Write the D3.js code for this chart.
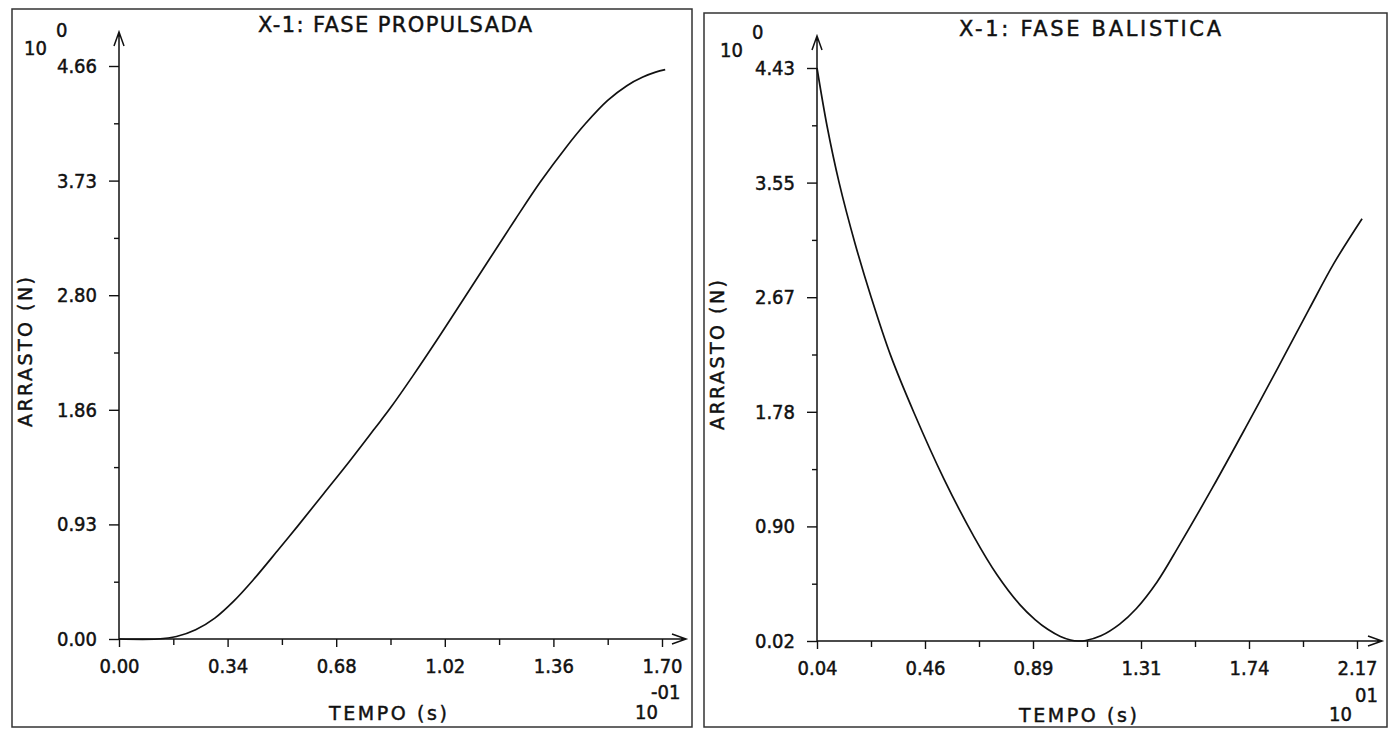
<!DOCTYPE html>
<html>
<head>
<meta charset="utf-8">
<script src="https://cdn.jsdelivr.net/npm/d3@7"></script>
<style>
  body { margin: 0; background: #fff; }
  text { font-family: "DejaVu Sans Condensed", "DejaVu Sans", sans-serif; font-stretch: condensed; fill: #111; stroke: #111; stroke-width: 0.45px; }
  text.wide { font-family: "DejaVu Sans", sans-serif; font-stretch: normal; }
</style>
</head>
<body>
<script>

// fase propulsada (tempo x 10^-1 s, arrasto N)
var propTime = [0, 0.12, 0.18, 0.24, 0.30, 0.36, 0.42, 0.50, 0.56, 0.64, 0.72, 0.80, 0.85, 0.92, 1.00, 1.085, 1.16, 1.24, 1.32, 1.40, 1.46, 1.53, 1.59, 1.64, 1.68, 1.71];
var propDrag = [0, 0.00, 0.02, 0.075, 0.17, 0.31, 0.48, 0.73, 0.92, 1.18, 1.44, 1.71, 1.88, 2.14, 2.45, 2.79, 3.09, 3.41, 3.72, 4.00, 4.19, 4.38, 4.50, 4.57, 4.61, 4.63];

// fase balistica (tempo x 10^1 s, arrasto N)
var balTime = [0.04, 0.08, 0.127, 0.19, 0.253, 0.33, 0.423, 0.54, 0.66, 0.75, 0.84, 0.90, 0.95, 1.00, 1.04, 1.07, 1.10, 1.16, 1.234, 1.30, 1.38, 1.47, 1.60, 1.73, 1.86, 1.98, 2.08, 2.19];
var balDrag = [4.43, 3.98, 3.55, 3.08, 2.67, 2.22, 1.775, 1.27, 0.82, 0.53, 0.30, 0.185, 0.11, 0.055, 0.028, 0.02, 0.024, 0.06, 0.15, 0.27, 0.47, 0.76, 1.20, 1.66, 2.13, 2.57, 2.93, 3.27];

// ticks
var propXTicks = [0, 0.34, 0.68, 1.02, 1.36, 1.70];
var propXMinor = [0.17, 0.51, 0.85, 1.19, 1.53];
var propXLabels = ["0.00", "0.34", "0.68", "1.02", "1.36", "1.70"];
var propYTicks = [0, 0.932, 1.864, 2.796, 3.728, 4.66];
var propYMinor = [0.466, 1.398, 2.33, 3.262, 4.194];
var propYLabels = ["0.00", "0.93", "1.86", "2.80", "3.73", "4.66"];

var balXTicks = [0.04, 0.466, 0.892, 1.318, 1.744, 2.17];
var balXMinor = [0.253, 0.679, 1.105, 1.531, 1.957];
var balXLabels = ["0.04", "0.46", "0.89", "1.31", "1.74", "2.17"];
var balYTicks = [0.02, 0.902, 1.784, 2.666, 3.548, 4.43];
var balYMinor = [0.461, 1.343, 2.225, 3.107, 3.989];
var balYLabels = ["0.02", "0.90", "1.78", "2.67", "3.55", "4.43"];

var titles = ["X-1: FASE PROPULSADA", "X-1: FASE BALISTICA"];
var xTitle = "TEMPO (s)";
var yTitle = "ARRASTO (N)";

// --- layout of the two plotter sheets ---

var panels = [
  {
    time: propTime, drag: propDrag,
    xTicks: propXTicks, xMinor: propXMinor, xLabels: propXLabels,
    yTicks: propYTicks, yMinor: propYMinor, yLabels: propYLabels,
    xDomain: [0, 1.70], yDomain: [0, 4.66],
    frame: [12, 9, 692, 727],
    xRange: [119, 662], yRange: [639, 66],
    arrowTop: 32, arrowRight: 686,
    title: { text: titles[0], x: 395, y: 32, len: 274 },
    yLab: { x: 32, y: 352, len: 150 },
    xLab: { x: 388, y: 720, len: 118 },
    yExp: { base: [24, 55], sup: "0", supPos: [56, 37] },
    xExp: { base: [635, 719], sup: "-01", supPos: [651, 699] }
  },
  {
    time: balTime, drag: balDrag,
    xTicks: balXTicks, xMinor: balXMinor, xLabels: balXLabels,
    yTicks: balYTicks, yMinor: balYMinor, yLabels: balYLabels,
    xDomain: [0.04, 2.17], yDomain: [0.02, 4.43],
    frame: [704, 13, 1387, 727],
    xRange: [817, 1357], yRange: [641, 68],
    arrowTop: 36, arrowRight: 1382,
    title: { text: titles[1], x: 1090, y: 36, len: 262 },
    yLab: { x: 724, y: 355, len: 150 },
    xLab: { x: 1078, y: 722, len: 118 },
    yExp: { base: [720, 57], sup: "0", supPos: [752, 39] },
    xExp: { base: [1329, 721], sup: "01", supPos: [1355, 702] }
  }
];

var svg = d3.select("body").append("svg")
  .attr("width", 1389)
  .attr("height", 729);

panels.forEach(function(p) {
  var g = svg.append("g");

  // sheet border
  g.append("rect")
    .attr("x", p.frame[0]).attr("y", p.frame[1])
    .attr("width", p.frame[2] - p.frame[0])
    .attr("height", p.frame[3] - p.frame[1])
    .attr("fill", "none")
    .attr("stroke", "#333")
    .attr("stroke-width", 1.5);

  var x = d3.scaleLinear().domain(p.xDomain).range(p.xRange);
  var y = d3.scaleLinear().domain(p.yDomain).range(p.yRange);

  // y axis: major + minor ticks
  g.append("g")
    .attr("transform", "translate(" + p.xRange[0] + ",0)")
    .call(d3.axisLeft(y).tickValues(p.yTicks).tickSize(10).tickPadding(12)
      .tickFormat(function(d, i) { return p.yLabels[i]; }));
  g.append("g")
    .attr("transform", "translate(" + p.xRange[0] + ",0)")
    .call(d3.axisLeft(y).tickValues(p.yMinor).tickSize(5).tickFormat(""));

  // x axis
  g.append("g")
    .attr("transform", "translate(0," + p.yRange[0] + ")")
    .call(d3.axisBottom(x).tickValues(p.xTicks).tickSize(8).tickPadding(12)
      .tickFormat(function(d, i) { return p.xLabels[i]; }));
  g.append("g")
    .attr("transform", "translate(0," + p.yRange[0] + ")")
    .call(d3.axisBottom(x).tickValues(p.xMinor).tickSize(6).tickFormat(""));

  g.selectAll(".domain").remove();
  g.selectAll(".tick line").attr("stroke", "#111").attr("stroke-width", 1.4);
  g.selectAll(".tick text").style("font-size", "20px").attr("fill", "#111");

  // axis lines with open arrowheads
  var x0 = p.xRange[0], y0 = p.yRange[0];
  g.append("path")
    .attr("d", "M" + x0 + "," + y0 + "V" + p.arrowTop +
      "M" + (x0 - 5) + "," + (p.arrowTop + 14) + "L" + x0 + "," + p.arrowTop + "L" + (x0 + 5) + "," + (p.arrowTop + 14))
    .attr("fill", "none").attr("stroke", "#111").attr("stroke-width", 1.5);
  g.append("path")
    .attr("d", "M" + x0 + "," + y0 + "H" + p.arrowRight +
      "M" + (p.arrowRight - 14) + "," + (y0 - 5) + "L" + p.arrowRight + "," + y0 + "L" + (p.arrowRight - 14) + "," + (y0 + 5))
    .attr("fill", "none").attr("stroke", "#111").attr("stroke-width", 1.5);

  // curve
  var line = d3.line()
    .x(function(d) { return x(d[0]); })
    .y(function(d) { return y(d[1]); })
    .curve(d3.curveCatmullRom.alpha(0.5));

  g.append("path")
    .datum(d3.zip(p.time, p.drag))
    .attr("d", line)
    .attr("fill", "none")
    .attr("stroke", "#111")
    .attr("stroke-width", 1.7);

  // title
  g.append("text")
    .attr("class", "wide")
    .attr("x", p.title.x).attr("y", p.title.y)
    .attr("text-anchor", "middle")
    .attr("textLength", p.title.len)
    .attr("lengthAdjust", "spacing")
    .style("font-size", "21px")
    .text(p.title.text);

  // axis titles
  g.append("text")
    .attr("class", "wide")
    .attr("transform", "translate(" + p.yLab.x + "," + p.yLab.y + ") rotate(-90)")
    .attr("text-anchor", "middle")
    .attr("textLength", p.yLab.len)
    .attr("lengthAdjust", "spacing")
    .style("font-size", "19px")
    .text(yTitle);

  g.append("text")
    .attr("class", "wide")
    .attr("x", p.xLab.x).attr("y", p.xLab.y)
    .attr("text-anchor", "middle")
    .attr("textLength", p.xLab.len)
    .attr("lengthAdjust", "spacing")
    .style("font-size", "19px")
    .text(xTitle);

  // scale exponents
  [p.yExp, p.xExp].forEach(function(e) {
    g.append("text")
      .attr("x", e.base[0]).attr("y", e.base[1])
      .style("font-size", "20px")
      .text("10");
    g.append("text")
      .attr("x", e.supPos[0]).attr("y", e.supPos[1])
      .style("font-size", "20px")
      .text(e.sup);
  });
});
</script>
</body>
</html>
